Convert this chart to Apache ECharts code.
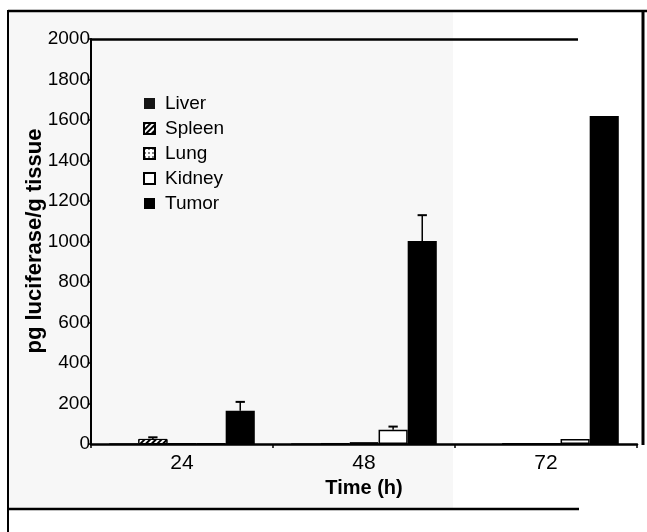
<!DOCTYPE html>
<html>
<head>
<meta charset="utf-8">
<script src="https://cdn.jsdelivr.net/npm/echarts@6/dist/echarts.min.js"></script>
<style>
  html, body { margin: 0; padding: 0; background: #fff; }
  #chart { width: 647px; height: 532px; }
</style>
</head>
<body>
<div id="chart"></div>
<script>
// time points (h)
var times = ['24', '48', '72'];
var organs = ['Liver', 'Spleen', 'Lung', 'Kidney', 'Tumor'];

// pg luciferase / g tissue
var liver = [5, 5, 0];
var spleen = [25, 5, 0];
var lung = [3, 8, 0];
var kidney = [2, 70, 25];
var tumor = [164, 1002, 1620];

// upper error (only where a whisker is drawn)
var spleenErr = [8, 0, 0];
var kidneyErr = [0, 16, 0];
var tumorErr = [44, 128, 0];

var yTicks = [0, 200, 400, 600, 800, 1000, 1200, 1400, 1600, 1800, 2000];

var chart = echarts.init(document.getElementById('chart'));
var FONT = 'Liberation Sans, Arial, sans-serif';

function errorRender(slot) {
    return function (params, api) {
        var idx = api.value(0);
        var v = api.value(1);
        var e = api.value(2);
        if (!e) return;
        var base = api.coord([idx, v]);
        var tip = api.coord([idx, v + e]);
        var band = api.size([1, 0])[0];
        var cx = base[0] + band * (-0.4 + (slot + 0.5) * 0.16);
        var half = band * 0.16 * 0.16;
        return {
            type: 'group',
            children: [
                { type: 'line', shape: { x1: cx, y1: base[1], x2: cx, y2: tip[1] },
                  style: { stroke: '#000', lineWidth: 1.5 } },
                { type: 'line', shape: { x1: cx - half, y1: tip[1], x2: cx + half, y2: tip[1] },
                  style: { stroke: '#000', lineWidth: 2 } }
            ]
        };
    };
}

function errData(vals, errs) {
    return vals.map(function (v, i) { return [i, v, errs[i]]; });
}

var styles = {
    Liver: { color: '#151515' },
    Spleen: { color: '#fff', borderColor: '#000', borderWidth: 1,
        decal: { color: '#000', dashArrayX: [1, 0], dashArrayY: [2, 2], rotation: -Math.PI / 4, symbol: 'rect' } },
    Lung: { color: '#fff', borderColor: '#000', borderWidth: 1,
        decal: { color: '#333', symbol: 'rect', symbolSize: 0.8, dashArrayX: [2, 2], dashArrayY: [2, 2] } },
    Kidney: { color: '#fff', borderColor: '#000', borderWidth: 1.5 },
    Tumor: { color: '#000' }
};
var values = { Liver: liver, Spleen: spleen, Lung: lung, Kidney: kidney, Tumor: tumor };

var series = organs.map(function (name) {
    return {
        name: name,
        type: 'bar',
        data: values[name],
        barGap: '0%',
        barCategoryGap: '20%',
        itemStyle: styles[name],
        emphasis: { disabled: true }
    };
});
series.push(
    { type: 'custom', renderItem: errorRender(1), data: errData(spleen, spleenErr), z: 3 },
    { type: 'custom', renderItem: errorRender(3), data: errData(kidney, kidneyErr), z: 3 },
    { type: 'custom', renderItem: errorRender(4), data: errData(tumor, tumorErr), z: 3 }
);

chart.setOption({
    animation: false,
    backgroundColor: '#fff',
    graphic: [
        // speckled scan area
        { type: 'rect', shape: { x: 9, y: 12, width: 444, height: 496 }, style: { fill: '#f7f7f7' }, z: -10, silent: true },
        // frame pieces of the scanned figure
        { type: 'line', shape: { x1: 8, y1: 11, x2: 647, y2: 11 }, style: { stroke: '#000', lineWidth: 2.5 } },
        { type: 'line', shape: { x1: 8, y1: 10, x2: 8, y2: 532 }, style: { stroke: '#000', lineWidth: 2 } },
        { type: 'line', shape: { x1: 643, y1: 10, x2: 643, y2: 445 }, style: { stroke: '#000', lineWidth: 3 } },
        { type: 'line', shape: { x1: 8, y1: 509, x2: 579, y2: 509 }, style: { stroke: '#000', lineWidth: 2.3 } },
        { type: 'line', shape: { x1: 91, y1: 39.5, x2: 578, y2: 39.5 }, style: { stroke: '#000', lineWidth: 2.3 } },
        // y axis title
        { type: 'text', x: 35, y: 241, rotation: Math.PI / 2,
          style: { text: 'pg luciferase/g tissue', font: 'bold 22px ' + FONT, fill: '#000',
                   align: 'center', verticalAlign: 'middle' } }
    ],
    legend: {
        orient: 'vertical',
        left: 138,
        top: 89,
        itemWidth: 11,
        itemHeight: 11,
        itemGap: 6,
        icon: 'rect',
        data: organs,
        selectedMode: false,
        textStyle: { fontFamily: FONT, fontSize: 19, color: '#000', padding: [0, 0, 0, 5] }
    },
    grid: { left: 91, right: 10, top: 39, bottom: 88, containLabel: false },
    xAxis: {
        type: 'category',
        data: times,
        name: 'Time (h)',
        nameLocation: 'middle',
        nameGap: 31,
        nameTextStyle: { fontFamily: FONT, fontSize: 20, fontWeight: 'bold', color: '#000' },
        axisLine: { lineStyle: { color: '#000', width: 2.5 } },
        axisTick: { show: true, length: 4, lineStyle: { color: '#000', width: 1.5 } },
        axisLabel: { fontFamily: FONT, fontSize: 21, color: '#000', margin: 9 }
    },
    yAxis: {
        type: 'value',
        min: 0,
        max: 2000,
        interval: 200,
        axisLine: { show: true, lineStyle: { color: '#000', width: 2 } },
        axisTick: { show: true, length: 3, lineStyle: { color: '#000', width: 1.5 } },
        splitLine: { show: false },
        axisLabel: { fontFamily: FONT, fontSize: 19, color: '#000', margin: 1,
            formatter: function (v) { return yTicks.indexOf(v) >= 0 ? String(v) : ''; } }
    },
    series: series
});
</script>
</body>
</html>
